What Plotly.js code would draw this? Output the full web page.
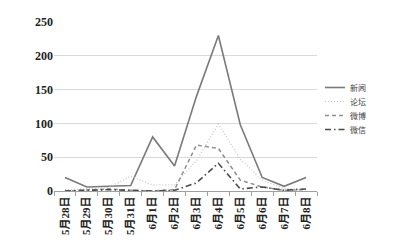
<!DOCTYPE html>
<html>
<head>
<meta charset="utf-8">
<script src="https://cdn.plot.ly/plotly-3.0.1.min.js"></script>
<style>html,body{margin:0;padding:0;background:#fff;}#chart{width:409px;height:248px;}</style>
</head>
<body>
<div id="chart"></div>
<script>
var dates = ["5月28日","5月29日","5月30日","5月31日","6月1日","6月2日","6月3日","6月4日","6月5日","6月6日","6月7日","6月8日"];
var seriesNames = ["新闻","论坛","微博","微信"];
var news   = [20, 6, 7, 8, 80, 37, 140, 230, 98, 20, 7, 20];
var forum  = [2, 3, 5, 22, 9, 9, 45, 99, 47, 16, 4, 3];
var weibo  = [0, 2, 3, 1, 0, 2, 68, 63, 16, 6, 1, 2];
var weixin = [0, 1, 2, 1, 0, 1, 12, 41, 3, 6, 1, 3];
var yTicks = [0, 50, 100, 150, 200, 250];

var styles = [
  {color:"#7a7a7a", dash:"solid", width:1.6},
  {color:"#c4c4c4", dash:"1px,2px", width:1.2},
  {color:"#8f8f8f", dash:"4px,3px", width:1.5},
  {color:"#4a4a4a", dash:"6px,3px,1.5px,3px", width:1.6}
];
var data = [news, forum, weibo, weixin].map(function(v, i){
  return {x: dates, y: v, type:"scatter", mode:"lines", name: seriesNames[i],
          line:{color:styles[i].color, dash:styles[i].dash, width:styles[i].width}};
});

// manual legend (paper coordinates)
var shapes = [], annotations = [];
var plotL = 54, plotW = 263, plotB = 191, plotH = 169;
seriesNames.forEach(function(n, i){
  var py = 87.5 + i*14;
  var yp = (plotB - py)/plotH;
  shapes.push({type:"line", xref:"paper", yref:"paper",
    x0:(325-plotL)/plotW, x1:(345-plotL)/plotW, y0:yp, y1:yp,
    line:{color:styles[i].color, dash:styles[i].dash, width:styles[i].width}});
  annotations.push({xref:"paper", yref:"paper", x:(348-plotL)/plotW, y:yp,
    xanchor:"left", yanchor:"middle", showarrow:false, text:n,
    font:{family:"Liberation Serif, Noto Sans CJK SC", size:8, color:"#444"}});
});

var layout = {
  width:409, height:248,
  margin:{l:54, r:92, t:22, b:57},
  paper_bgcolor:"#fff", plot_bgcolor:"#fff",
  showlegend:false,
  shapes:shapes, annotations:annotations,
  xaxis:{type:"category", showgrid:false, showline:true, linecolor:"#a0a0a0",
         ticks:"outside", ticklen:4, tickcolor:"#a0a0a0", tickson:"boundaries",
         tickangle:-90, tickfont:{family:"Liberation Serif, Noto Sans CJK SC", size:11, color:"#222", weight:"bold"},
         range:[-0.5, 11.5]},
  yaxis:{range:[0,250], tickvals:yTicks, showgrid:true, gridcolor:"#d9d9d9", zeroline:false,
         showline:false, tickfont:{family:"Liberation Serif", size:12, color:"#222", weight:"bold"},
         ticksuffix:"  "}
};
Plotly.newPlot("chart", data, layout, {staticPlot:true});
</script>
</body>
</html>
